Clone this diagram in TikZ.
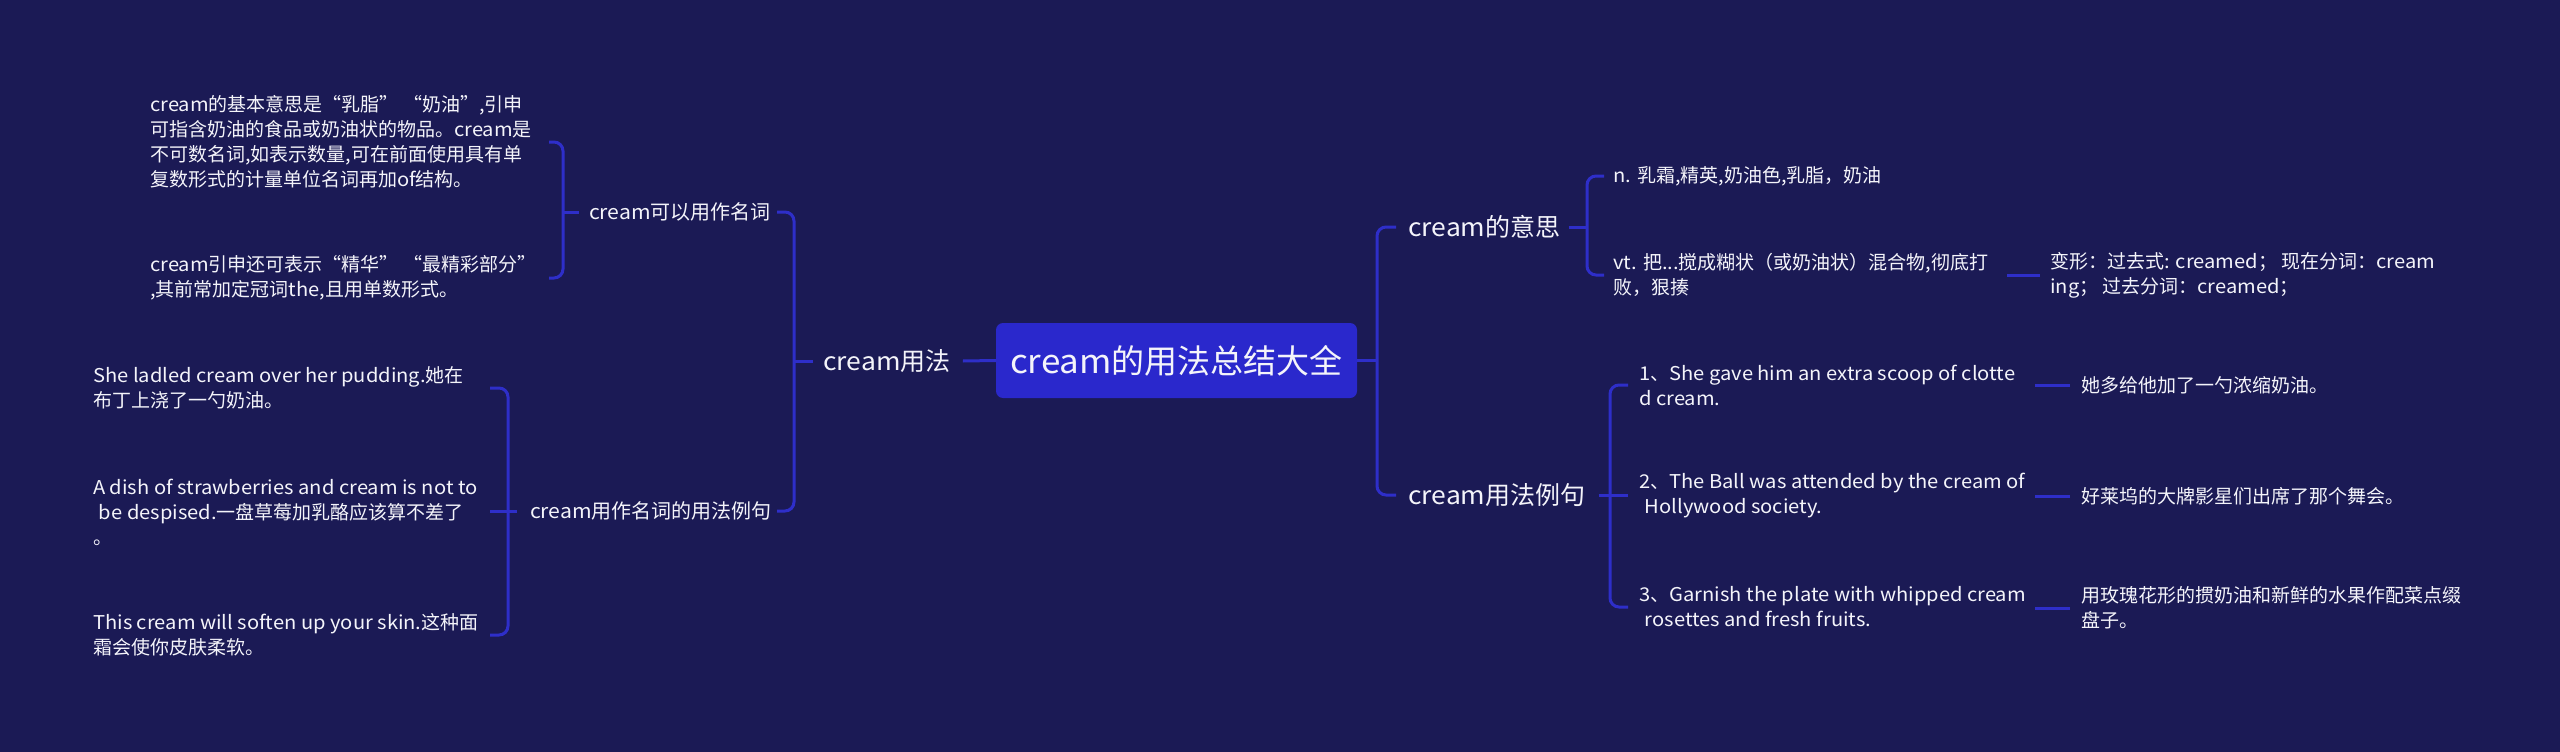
\documentclass[tikz,border=0pt]{standalone}
\usepackage{fontspec}
\setmainfont{Noto Sans CJK SC}[FakeStretch=1.06]
\newfontfamily\cjkf{Noto Sans CJK SC}
\XeTeXinterchartokenstate=1
\newXeTeXintercharclass\CJKcls
\count255="3000
\loop \XeTeXcharclass\count255=\CJKcls \ifnum\count255<"303F \advance\count255 by 1 \repeat
\count255="4E00
\loop \XeTeXcharclass\count255=\CJKcls \ifnum\count255<"9FFF \advance\count255 by 1 \repeat
\count255="FF00
\loop \XeTeXcharclass\count255=\CJKcls \ifnum\count255<"FFEF \advance\count255 by 1 \repeat
\count255="2018
\loop \XeTeXcharclass\count255=\CJKcls \ifnum\count255<"201D \advance\count255 by 1 \repeat
\XeTeXinterchartoks 0 \CJKcls = {\cjkf}
\XeTeXinterchartoks 4095 \CJKcls = {\cjkf}
\XeTeXinterchartoks \CJKcls 0 = {\rmfamily}
\XeTeXinterchartoks 4095 0 = {\rmfamily}
\definecolor{bg}{HTML}{1B1A55}
\definecolor{ln}{HTML}{2E2EC9}
\definecolor{rootc}{HTML}{2A28CC}
\definecolor{txt}{HTML}{F4F4FA}
\tikzset{
  conn/.style={draw=ln, line width=3pt, rounded corners=9pt},
  leaf/.style={anchor=west, inner sep=0pt, align=left, text=txt, font=\fontsize{19}{25}\selectfont},
  lvltwo/.style={inner sep=0pt, text=txt, font=\fontsize{20}{24}\selectfont},
  lvlone/.style={inner sep=0pt, text=txt, font=\fontsize{25}{30}\selectfont},
  rootbox/.style={fill=rootc, rounded corners=7pt, minimum width=361pt, minimum height=75pt, inner sep=0pt, text=txt, font=\fontsize{33}{40}\selectfont}
}
\begin{document}
\begin{tikzpicture}[x=1pt,y=-1pt]
\fill[bg] (0,0) rectangle (2560,752);
% bracket x positions
\coordinate (LB) at (794,0);  \coordinate (LBs) at (777,0);
\coordinate (LB2) at (563,0); \coordinate (LB2s) at (549,0);
\coordinate (LB3) at (508,0); \coordinate (LB3s) at (490,0);
\coordinate (RB) at (1377,0); \coordinate (RBs) at (1396,0);
\coordinate (RB2) at (1587,0); \coordinate (RB2s) at (1604,0);
\coordinate (RB3) at (1610,0); \coordinate (RB3s) at (1628,0);
\coordinate (V1) at (2007,0);
\coordinate (T1) at (2035,0);

% nodes
\node[rootbox] (root) at (1176.5,360.5) {cream的用法总结大全};
\node[lvlone] (yongfa) at (887,361) {cream用法};
\node[lvltwo] (kyz) at (680,212) {cream可以用作名词};
\node[lvltwo] (lj) at (651,511) {cream用作名词的用法例句};
\node[leaf] (p1) at (150,142) {cream的基本意思是“乳脂” “奶油”,引申\\可指含奶油的食品或奶油状的物品。cream是\\不可数名词,如表示数量,可在前面使用具有单\\复数形式的计量单位名词再加of结构。};
\node[leaf] (p2) at (150,278) {cream引申还可表示“精华” “最精彩部分”\\,其前常加定冠词the,且用单数形式。};
\node[leaf] (e1) at (93,388) {She ladled cream over her pudding.她在\\布丁上浇了一勺奶油。};
\node[leaf] (e2) at (93,512) {A dish of strawberries and cream is not to\\\hspace*{.3em}be despised.一盘草莓加乳酪应该算不差了\\。};
\node[leaf] (e3) at (93,635) {This cream will soften up your skin.这种面\\霜会使你皮肤柔软。};

\node[lvlone, anchor=west] (yisi) at (1408,227) {cream的意思};
\node[lvlone, anchor=west] (ljr) at (1408,495) {cream用法例句};
\node[leaf] (n1) at (1613,176) {n. 乳霜,精英,奶油色,乳脂，奶油};
\node[leaf] (v1) at (1613,275) {vt. 把...搅成糊状（或奶油状）混合物,彻底打\\败，狠揍};
\node[leaf] (bx) at (2050,275) {变形：过去式: creamed； 现在分词：cream\\ing； 过去分词：creamed；};
\node[leaf] (r1) at (1639,385) {1、She gave him an extra scoop of clotte\\d cream.};
\node[leaf] (r2) at (1639,496) {2、The Ball was attended by the cream of\\\hspace*{.3em}Hollywood society.};
\node[leaf] (r3) at (1639,607) {3、Garnish the plate with whipped cream\\\hspace*{.3em}rosettes and fresh fruits.};
\node[leaf] (t1) at (2081,385) {她多给他加了一勺浓缩奶油。};
\node[leaf] (t2) at (2081,496) {好莱坞的大牌影星们出席了那个舞会。};
\node[leaf] (t3) at (2081,608) {用玫瑰花形的掼奶油和新鲜的水果作配菜点缀\\盘子。};

% left connectors
\draw[conn] (root.west) -- ([xshift=12pt]yongfa.east);
\draw[conn] ([xshift=-10pt]yongfa.west) -- (LB |- yongfa.west);
\draw[conn] (LBs |- kyz.east) -| (LB |- lj.east) -- (LBs |- lj.east);
\draw[conn] ([xshift=-10pt]kyz.west) -- (LB2 |- kyz.west);
\draw[conn] (LB2s |- p1.west) -| (LB2 |- p2.west) -- (LB2s |- p2.west);
\draw[conn] ([xshift=-13pt]lj.west) -- (LB3s |- lj.west);
\draw[conn] (LB3s |- e1.east) -| (LB3 |- e3.east) -- (LB3s |- e3.east);

% right connectors
\draw[conn] (root.east) -- (RB |- root.east);
\draw[conn] (RBs |- yisi.west) -| (RB |- ljr.west) -- (RBs |- ljr.west);
\draw[conn] ([xshift=8pt]yisi.east) -- (RB2 |- yisi.east);
\draw[conn] (RB2s |- n1.west) -| (RB2 |- v1.west) -- (RB2s |- v1.west);
\draw[conn] (V1 |- bx.west) -- ([xshift=-10pt]bx.west);
\draw[conn] ([xshift=13pt]ljr.east) -- (RB3s |- ljr.east);
\draw[conn] (RB3s |- r1.west) -| (RB3 |- r3.west) -- (RB3s |- r3.west);
\draw[conn] (T1 |- t1.west) -- ([xshift=-11pt]t1.west);
\draw[conn] (T1 |- t2.west) -- ([xshift=-11pt]t2.west);
\draw[conn] (T1 |- t3.west) -- ([xshift=-11pt]t3.west);
\end{tikzpicture}
\end{document}
